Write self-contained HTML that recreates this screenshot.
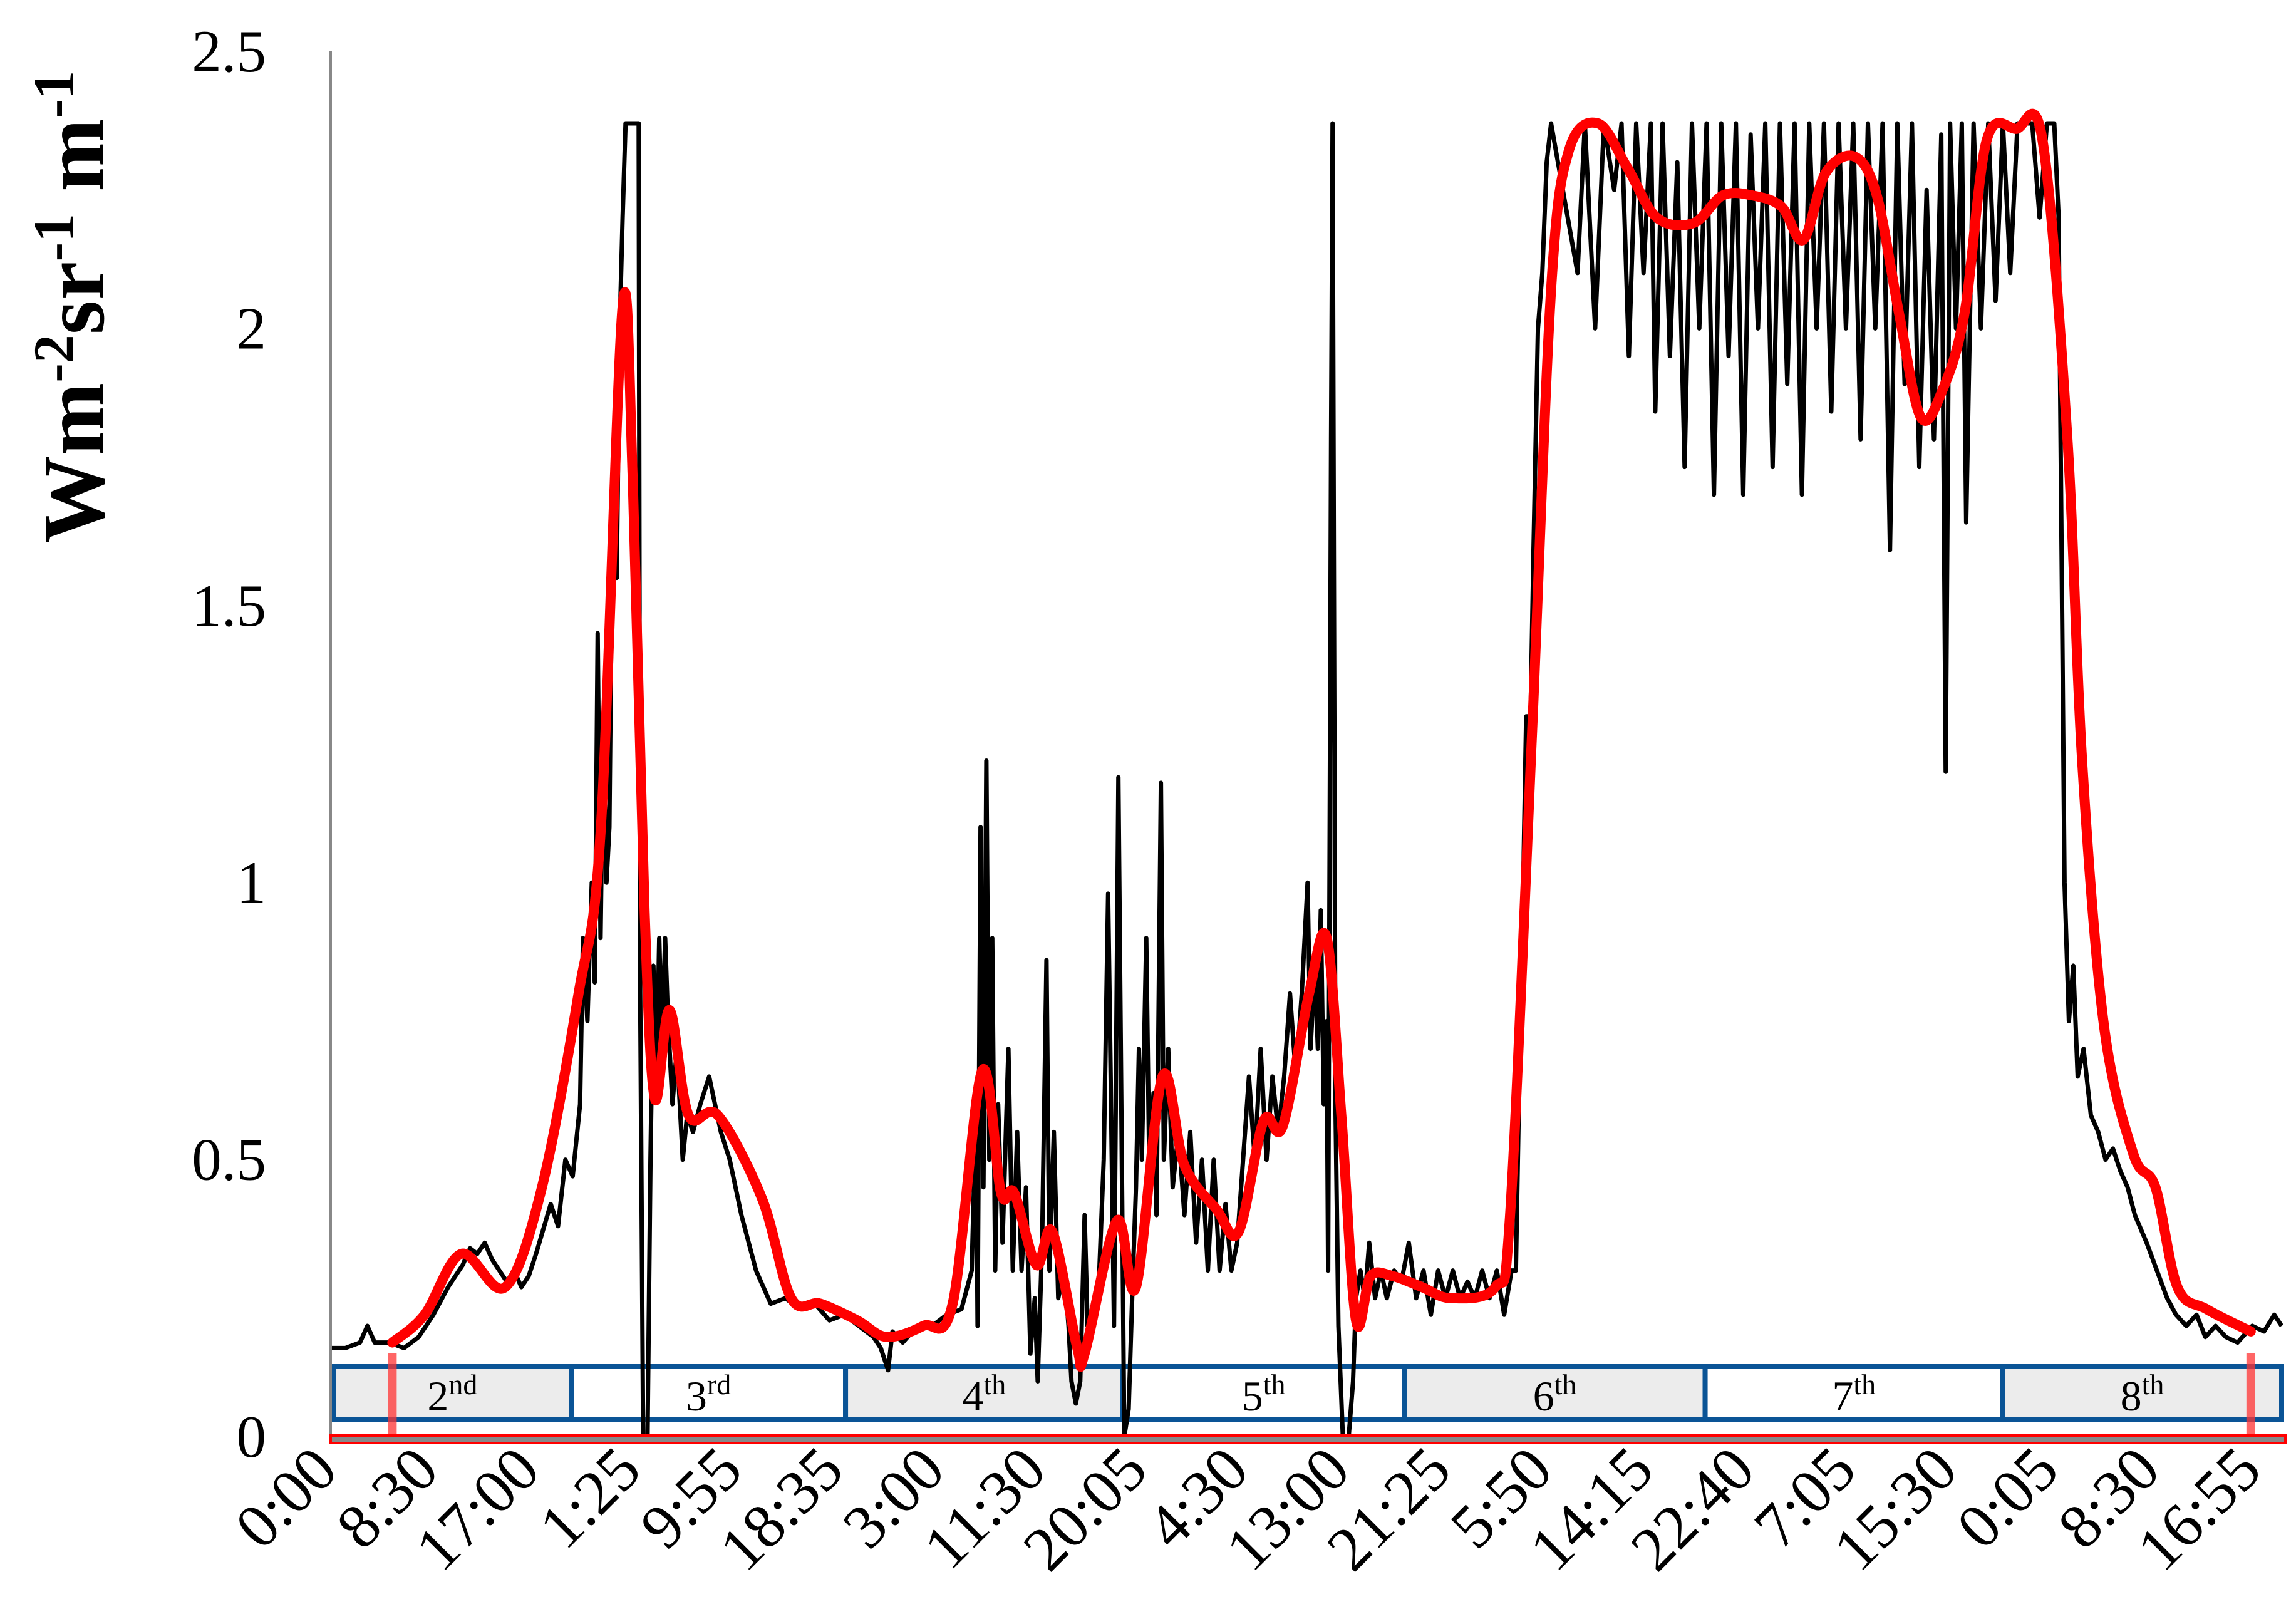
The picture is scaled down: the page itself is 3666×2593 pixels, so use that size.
<!DOCTYPE html>
<html><head><meta charset="utf-8"><style>
html,body{margin:0;padding:0;background:#fff;}
svg{display:block;font-family:"Liberation Serif",serif;}
</style></head><body>
<svg id="chart" width="3666" height="2593" viewBox="0 0 3666 2593" xmlns="http://www.w3.org/2000/svg">
<g id="boxes"></g>
<g id="series"></g>
<g id="axes"></g>
<text transform="translate(165,490) rotate(-90)" text-anchor="middle" font-size="140" font-weight="bold">Wm<tspan dy="-48" font-size="92">-2</tspan><tspan dy="48">sr</tspan><tspan dy="-48" font-size="92">-1</tspan><tspan dy="48"> m</tspan><tspan dy="-48" font-size="92">-1</tspan></text>
</svg>
<script>
const xTickLabels=["0:00","8:30","17:00","1:25","9:55","18:35","3:00","11:30","20:05","4:30","13:00","21:25","5:50","14:15","22:40","7:05","15:30","0:05","8:30","16:55"];
const yTicks=[0,0.5,1,1.5,2,2.5];
const periodLabels=["2","3","4","5","6","7","8"];
const periodSuffix=["nd","rd","th","th","th","th","th"];
const periodStart=[2,164,351,540,732,937,1140];
const periodEnd=[164,351,540,732,937,1140,1330];
const markerT=[42,1309];
const blackT=[0,10,20,25,30,40,50,60,70,80,90,95,100,105,110,120,125,130,135,140,150,155,160,165,170,172,175,178,180,182,184,186,188,190,192,195,197,199,201,210,211,213,216,218,220,222,224,226,228,230,233,236,240,243,247,252,258,262,266,272,280,290,300,310,320,330,340,350,360,370,375,380,383,390,400,410,420,430,437,440,441,443,445,447,449,451,453,455,458,462,465,468,471,474,477,480,482,485,488,490,493,496,500,503,505,508,511,514,516,520,524,527,530,532,534,537,539,541,544,547,549,551,553,556,558,561,563,566,568,571,574,578,582,586,590,594,598,602,606,610,614,618,622,626,630,634,638,642,646,650,654,658,662,666,668,671,673,675,677,679,680,682,683,685,687,690,694,697,699,702,705,708,712,716,720,725,730,735,740,745,750,755,760,765,770,775,780,785,790,795,800,805,808,810,813,815,818,820,823,826,829,832,850,855,862,868,875,880,885,890,895,900,903,908,913,918,923,928,933,938,943,948,953,958,963,968,973,978,983,988,993,998,1003,1008,1013,1018,1023,1028,1033,1038,1043,1048,1053,1058,1063,1068,1073,1078,1083,1088,1093,1098,1101,1104,1108,1112,1115,1120,1125,1130,1135,1140,1145,1150,1160,1165,1170,1175,1178,1182,1185,1188,1191,1195,1200,1205,1210,1215,1220,1225,1230,1238,1245,1252,1258,1265,1272,1278,1285,1292,1300,1310,1318,1325,1330];
const blackV=[0.16,0.16,0.17,0.2,0.17,0.17,0.16,0.18,0.22,0.27,0.31,0.34,0.33,0.35,0.32,0.28,0.3,0.27,0.29,0.33,0.42,0.38,0.5,0.47,0.6,0.9,0.75,1.0,0.82,1.45,0.9,1.3,1.0,1.1,1.65,1.55,2.0,2.2,2.37,2.37,0.8,0.0,0.0,0.5,0.85,0.62,0.9,0.7,0.9,0.75,0.6,0.7,0.5,0.58,0.55,0.6,0.65,0.6,0.55,0.5,0.4,0.3,0.24,0.25,0.23,0.24,0.21,0.22,0.2,0.18,0.16,0.12,0.19,0.17,0.2,0.2,0.22,0.23,0.3,0.6,0.2,1.1,0.45,1.22,0.5,0.9,0.3,0.6,0.35,0.7,0.3,0.55,0.3,0.45,0.15,0.25,0.1,0.35,0.86,0.3,0.55,0.25,0.3,0.2,0.1,0.06,0.1,0.4,0.2,0.2,0.3,0.5,0.98,0.6,0.2,1.19,0.6,0.0,0.05,0.3,0.45,0.7,0.5,0.9,0.5,0.62,0.4,1.18,0.5,0.7,0.45,0.55,0.4,0.55,0.35,0.5,0.3,0.5,0.3,0.42,0.3,0.35,0.5,0.65,0.5,0.7,0.5,0.65,0.55,0.65,0.8,0.65,0.8,1.0,0.7,0.85,0.7,0.95,0.6,0.75,0.3,1.8,2.37,0.6,0.2,0.0,0.0,0.1,0.25,0.3,0.25,0.35,0.25,0.3,0.25,0.3,0.28,0.35,0.25,0.3,0.22,0.3,0.25,0.3,0.25,0.28,0.25,0.3,0.25,0.3,0.22,0.3,0.3,0.6,1.0,1.3,1.3,1.6,2.0,2.1,2.3,2.37,2.1,2.37,2.0,2.37,2.25,2.37,1.95,2.37,2.1,2.37,1.85,2.37,1.95,2.3,1.75,2.37,2.0,2.37,1.7,2.37,1.95,2.37,1.7,2.35,2.0,2.37,1.75,2.37,1.9,2.37,1.7,2.37,2.0,2.37,1.85,2.37,2.0,2.37,1.8,2.37,2.0,2.37,1.6,2.37,1.9,2.37,1.75,2.25,1.8,2.35,1.2,2.37,2.0,2.37,1.65,2.37,2.0,2.37,2.05,2.37,2.1,2.37,2.37,2.2,2.37,2.37,2.2,1.0,0.75,0.85,0.65,0.7,0.58,0.55,0.5,0.52,0.48,0.45,0.4,0.35,0.3,0.25,0.22,0.2,0.22,0.18,0.2,0.18,0.17,0.2,0.19,0.22,0.2];
const redT=[42,64,89,119,144,169,184,199,206,214,221,231,244,264,294,314,334,359,379,404,424,444,457,466,481,492,509,514,536,549,567,582,604,619,636,649,667,679,689,699,709,724,744,764,794,804,819,832,844,864,884,904,929,949,969,989,1004,1019,1039,1054,1069,1084,1099,1114,1129,1149,1167,1184,1194,1209,1229,1244,1259,1279,1309];
const redV=[0.17,0.22,0.33,0.27,0.45,0.8,1.09,2.04,1.72,0.95,0.61,0.77,0.58,0.58,0.43,0.25,0.24,0.21,0.18,0.2,0.24,0.66,0.44,0.44,0.31,0.37,0.16,0.15,0.39,0.27,0.65,0.49,0.41,0.37,0.57,0.56,0.8,0.9,0.58,0.21,0.29,0.29,0.27,0.25,0.27,0.4,1.27,2.07,2.32,2.37,2.29,2.2,2.19,2.24,2.24,2.22,2.16,2.28,2.31,2.24,2.03,1.84,1.89,2.03,2.34,2.36,2.34,1.8,1.22,0.74,0.51,0.45,0.27,0.23,0.19];

const NS="http://www.w3.org/2000/svg";
const X0=528,X1=3643,Y0=2294,Y25=82;
const xs=t=>X0+t*(X1-X0)/1330;
const ys=v=>Y0-v*(Y0-Y25)/2.5;
function mk(tag,attrs,parent){const e=document.createElementNS(NS,tag);for(const k in attrs)e.setAttribute(k,attrs[k]);parent.appendChild(e);return e;}
const boxes=document.getElementById('boxes'),series=document.getElementById('series'),axes=document.getElementById('axes');

for(let i=0;i<periodLabels.length;i++){
  const r=mk('rect',{x:xs(periodStart[i]),y:2182,width:xs(periodEnd[i])-xs(periodStart[i]),height:84,fill:i%2===0?'#ececec':'#ffffff',stroke:'#0a5496','stroke-width':8},boxes);
  
  
  const tx=mk('text',{x:(xs(periodStart[i])+xs(periodEnd[i]))/2,y:2252,'text-anchor':'middle','font-size':68,fill:'#000'},boxes);
  
  
  tx.textContent=periodLabels[i];
  const sup=mk('tspan',{dy:-26,'font-size':46},tx);sup.textContent=periodSuffix[i];
}
markerT.forEach((t,i)=>{
  const l=mk('line',{x1:xs(t),x2:xs(t),y1:2160,y2:Y0,stroke:'#ff3333','stroke-width':14,'stroke-opacity':0.75},series);
  
  
});
let d='';blackT.forEach((t,i)=>{d+=(i?'L':'M')+xs(t).toFixed(1)+','+ys(blackV[i]).toFixed(1);});
const bl=mk('path',{d:d,fill:'none',stroke:'#000','stroke-width':7,'stroke-linejoin':'round'},series);


const pts=redT.map((t,i)=>[xs(t),ys(redV[i])]);
let rd='M'+pts[0][0]+','+pts[0][1];
for(let i=0;i<pts.length-1;i++){const p0=pts[Math.max(0,i-1)],p1=pts[i],p2=pts[i+1],p3=pts[Math.min(pts.length-1,i+2)];
  const c1=[p1[0]+(p2[0]-p0[0])/6,p1[1]+(p2[1]-p0[1])/6],c2=[p2[0]-(p3[0]-p1[0])/6,p2[1]-(p3[1]-p1[1])/6];
  rd+='C'+c1[0].toFixed(1)+','+c1[1].toFixed(1)+' '+c2[0].toFixed(1)+','+c2[1].toFixed(1)+' '+p2[0].toFixed(1)+','+p2[1].toFixed(1);}
const rl=mk('path',{d:rd,fill:'none',stroke:'#ff0000','stroke-width':16,'stroke-linejoin':'round','stroke-linecap':'round'},series);


const ya=mk('line',{x1:X0,x2:X0,y1:Y25,y2:Y0+6,stroke:'#888','stroke-width':4},axes);


const xa=mk('rect',{x:X0,y:Y0-2,width:X1-X0+6,height:12,fill:'#888',stroke:'#ff0000','stroke-width':4},axes);


yTicks.forEach(v=>{
  const t=mk('text',{x:425,y:ys(v)+32,'text-anchor':'end','font-size':95},axes);
  
  
  t.textContent=String(v);
});
xTickLabels.forEach((lab,i)=>{
  const x=X0+i*(3600-X0)/(xTickLabels.length-1);
  const t=mk('text',{x:x+15,y:2352,'text-anchor':'end','font-size':100,transform:'rotate(-45 '+(x+15)+' 2352)'},axes);
  
  
  t.textContent=lab;
});
</script>
</body></html>
